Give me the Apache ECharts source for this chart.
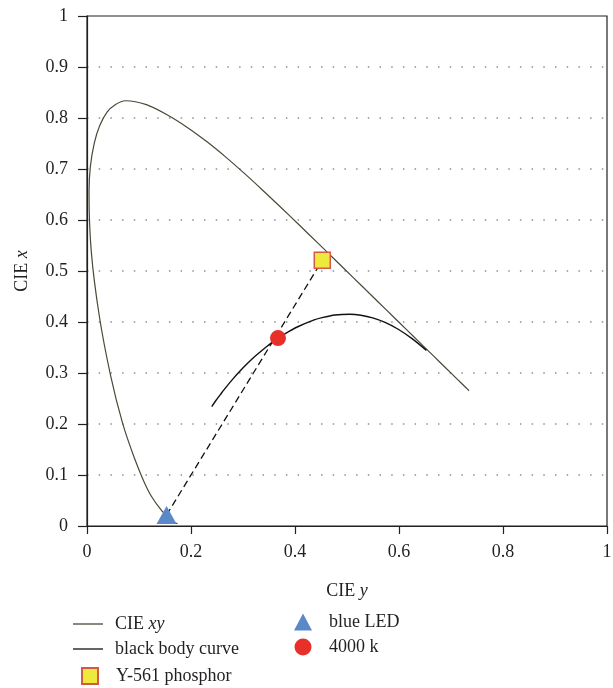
<!DOCTYPE html>
<html>
<head>
<meta charset="utf-8">
<script src="https://cdn.jsdelivr.net/npm/echarts@6/dist/echarts.min.js"></script>
<style>
  html, body { margin: 0; padding: 0; background: #fff; }
  #chart { width: 613px; height: 688px; }
</style>
</head>
<body>
<div id="chart"></div>
<script>
// CIE 1931 spectral locus (horseshoe), 380 nm -> 700 nm
const locusX = [0.1741, 0.1733, 0.1714, 0.1644, 0.1566, 0.1440, 0.1241, 0.1096, 0.0913, 0.0687,
  0.0454, 0.0235, 0.0082, 0.0039, 0.0139, 0.0389, 0.0743, 0.1142, 0.1547, 0.1929,
  0.2296, 0.2658, 0.3016, 0.3373, 0.3731, 0.4087, 0.4441, 0.4788, 0.5125, 0.5448,
  0.5752, 0.6029, 0.6270, 0.6658, 0.6915, 0.7079, 0.7190, 0.7260, 0.7300, 0.7334, 0.7347];
const locusY = [0.0050, 0.0048, 0.0051, 0.0109, 0.0177, 0.0297, 0.0578, 0.0868, 0.1327, 0.2007,
  0.2950, 0.4127, 0.5384, 0.6548, 0.7502, 0.8120, 0.8338, 0.8262, 0.8059, 0.7816,
  0.7543, 0.7243, 0.6923, 0.6589, 0.6245, 0.5896, 0.5547, 0.5202, 0.4866, 0.4544,
  0.4242, 0.3965, 0.3725, 0.3340, 0.3083, 0.2920, 0.2809, 0.2740, 0.2700, 0.2666, 0.2653];

// black body curve, hot end -> 1000 K
const planckX = [0.2399, 0.2479, 0.2565, 0.2637, 0.2807, 0.2952, 0.3064, 0.3221, 0.3451, 0.3608,
  0.3805, 0.4053, 0.4369, 0.4520, 0.4770, 0.5056, 0.5267, 0.5493, 0.5732, 0.5985, 0.6251, 0.6528];
const planckY = [0.2342, 0.2461, 0.2577, 0.2674, 0.2884, 0.3048, 0.3166, 0.3318, 0.3516, 0.3636,
  0.3768, 0.3907, 0.4041, 0.4086, 0.4137, 0.4152, 0.4133, 0.4082, 0.3993, 0.3858, 0.3674, 0.3444];

const blueLed = [0.153, 0.0216];
const phosphor = [0.4525, 0.5209];
const point4000k = [0.3673, 0.3684];

const xTicks = [0, 0.2, 0.4, 0.6, 0.8, 1];
const yTicks = [0, 0.1, 0.2, 0.3, 0.4, 0.5, 0.6, 0.7, 0.8, 0.9, 1];

const zip = (xs, ys) => xs.map((x, i) => [x, ys[i]]);

const font = 'Liberation Serif';
const ink = '#231f20';
const lineIcon = 'path://M0,0H30V1.3H0Z';

const chart = echarts.init(document.getElementById('chart'));

const option = {
  backgroundColor: '#fff',
  animation: false,
  textStyle: { fontFamily: font, color: ink },
  grid: {
    left: 87,
    right: 6,
    top: 16,
    bottom: 162,
    show: true,
    borderColor: ink,
    borderWidth: 1.2,
    outerBoundsMode: 'none'
  },
  xAxis: {
    type: 'value',
    min: xTicks[0],
    max: xTicks[xTicks.length - 1],
    interval: 0.2,
    name: 'CIE {i|y}',
    nameLocation: 'middle',
    nameGap: 56,
    nameTextStyle: {
      fontFamily: font, fontSize: 18, color: ink,
      rich: { i: { fontFamily: font, fontSize: 18, fontStyle: 'italic', color: ink } }
    },
    axisLine: { lineStyle: { color: ink, width: 1.2 } },
    axisTick: { length: 8, lineStyle: { color: ink, width: 1.2 } },
    axisLabel: { margin: 17, fontSize: 18, color: ink, fontFamily: font },
    splitLine: { show: false }
  },
  yAxis: {
    type: 'value',
    min: yTicks[0],
    max: yTicks[yTicks.length - 1],
    interval: 0.1,
    name: 'CIE {i|x}',
    nameLocation: 'middle',
    nameGap: 56,
    nameTextStyle: {
      fontFamily: font, fontSize: 18, color: ink,
      rich: { i: { fontFamily: font, fontSize: 18, fontStyle: 'italic', color: ink } }
    },
    axisLine: { lineStyle: { color: ink, width: 1.2 } },
    axisTick: { length: 9, lineStyle: { color: ink, width: 1.2 } },
    axisLabel: { margin: 19, fontSize: 18, color: ink, fontFamily: font },
    splitLine: { show: true, lineStyle: { color: '#8f8f8f', width: 1.5, type: [1.5, 10.2] } }
  },
  legend: [
    {
      data: [{ name: 'CIE xy', icon: lineIcon }, { name: 'black body curve', icon: lineIcon }],
      orient: 'vertical',
      left: 73,
      top: 615,
      padding: 0,
      itemWidth: 30,
      itemHeight: 14,
      itemGap: 7,
      symbolKeepAspect: true,
      formatter: (name) => (name === 'CIE xy' ? 'CIE {i|xy}' : name),
      textStyle: {
        fontFamily: font, fontSize: 18, color: ink, padding: [0, 0, 0, 7],
        rich: { i: { fontFamily: font, fontSize: 18, fontStyle: 'italic', color: ink } }
      }
    },
    {
      data: ['Y-561 phosphor'],
      orient: 'vertical',
      left: 81,
      top: 667,
      padding: 0,
      itemWidth: 16,
      itemHeight: 16,
      textStyle: { fontFamily: font, fontSize: 18, color: ink, padding: [0, 0, 0, 13] }
    },
    {
      data: ['blue LED', '4000 k'],
      orient: 'vertical',
      left: 294,
      top: 613,
      padding: 0,
      itemWidth: 18,
      itemHeight: 17,
      itemGap: 7,
      textStyle: { fontFamily: font, fontSize: 18, color: ink, padding: [0, 0, 0, 12] }
    }
  ],
  series: [
    {
      name: 'CIE xy',
      type: 'line',
      data: zip(locusX, locusY),
      smooth: 0.3,
      symbol: 'none',
      color: '#4b4837',
      lineStyle: { color: '#4b4837', width: 1.2 },
      z: 2
    },
    {
      name: 'black body curve',
      type: 'line',
      data: zip(planckX, planckY),
      smooth: 0.3,
      symbol: 'none',
      color: '#111',
      lineStyle: { color: '#111', width: 1.4 },
      z: 2
    },
    {
      name: 'mixing line',
      type: 'line',
      data: [blueLed, phosphor],
      symbol: 'none',
      lineStyle: { color: '#111', width: 1.3, type: [7, 4] },
      z: 2
    },
    {
      name: 'Y-561 phosphor',
      type: 'scatter',
      data: [phosphor],
      symbol: 'rect',
      symbolSize: 16,
      itemStyle: { color: '#eeea3c', borderColor: '#d4574a', borderWidth: 1.5, opacity: 1 },
      z: 5
    },
    {
      name: 'blue LED',
      type: 'scatter',
      data: [blueLed],
      symbol: 'triangle',
      symbolSize: [20, 18],
      itemStyle: { color: '#5b88c8', opacity: 1 },
      z: 5
    },
    {
      name: '4000 k',
      type: 'scatter',
      data: [point4000k],
      symbol: 'circle',
      symbolSize: 16,
      itemStyle: { color: '#e8302a', opacity: 1 },
      z: 5
    }
  ]
};

chart.setOption(option);
</script>
</body>
</html>
